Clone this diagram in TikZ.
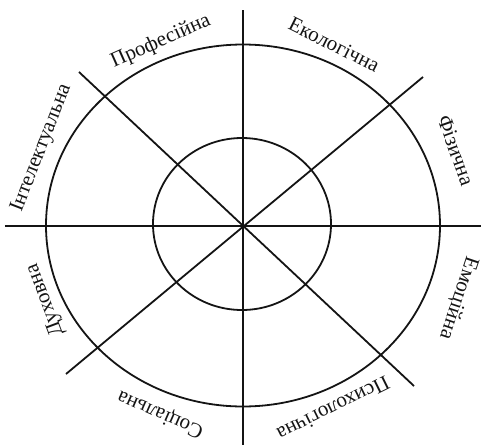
\documentclass[tikz,border=0pt]{standalone}
\usepackage{fontspec}
\setmainfont{Liberation Serif}
\usetikzlibrary{positioning, calc}
\definecolor{wheelblack}{RGB}{20, 20, 20}
\tikzset{
  wheelLine/.style={
    draw=wheelblack,
    line width=1.8pt
  },
  wheelLabel/.style={
    font=\fontsize{21}{24}\selectfont,
    text=wheelblack,
    inner sep=0pt
  }
}

\begin{document}
\begin{tikzpicture}[x=1pt, y=1pt]
      \useasboundingbox (-243,-219) rectangle (238,226);
      \coordinate (c) at (0,0);
      \coordinate (top) at (0,216);
      \coordinate (bot) at (0,-219);
      \coordinate (lft) at (-238,0);
      \coordinate (rgt) at (238,0);
      \coordinate (nw) at (-164,154);
      \coordinate (se) at (171,-160);
      \coordinate (ne) at (180,149);
      \coordinate (sw) at (-177,-148);

      % rings
      \draw[wheelLine] (0,0.5) ellipse [x radius=197, y radius=181];
      \draw[wheelLine] (-1,2) ellipse [x radius=89, y radius=86];

      % spokes
      \draw[wheelLine] (top) -- (bot);
      \draw[wheelLine] (lft) -- (rgt);
      \draw[wheelLine] (nw) -- (se);
      \draw[wheelLine] (ne) -- (sw);

      % labels round the outer ring
      \foreach \ang/\rad/\name/\txt in {
          114/202/prof/Професійна,
          63.3/203/ekol/Екологічна,
          19.6/226/fiz/Фізична,
          -18.5/227/emo/Емоційна,
          -63.7/204/psy/Психологічна,
          -113.7/205/soc/Соціальна,
          -159.5/211/dukh/Духовна,
          158.8/216/intel/Інтелектуальна}
        \node[wheelLabel, rotate=\ang-90] (\name) at (\ang:\rad) {\txt};
\end{tikzpicture}
\end{document}
